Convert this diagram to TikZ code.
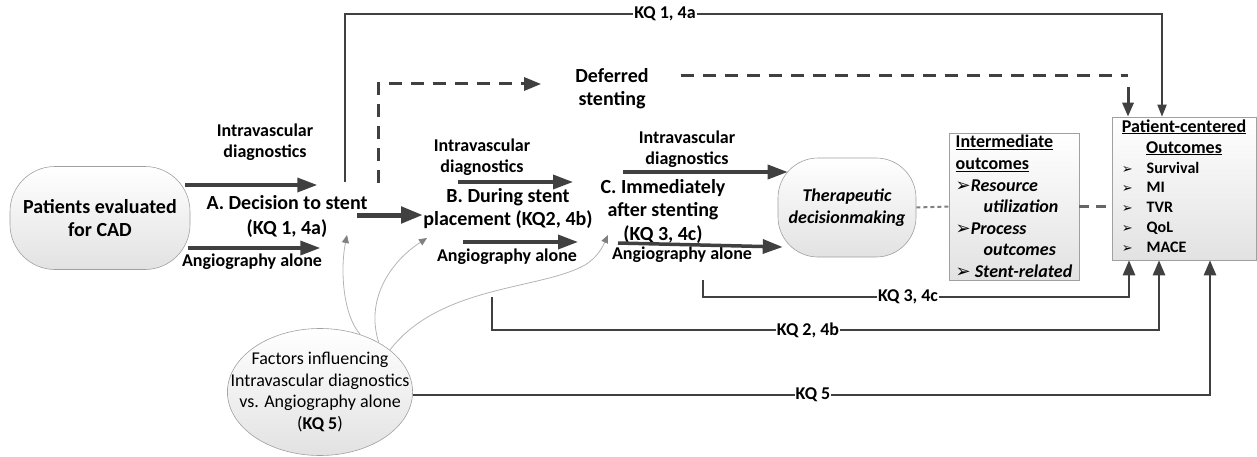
\documentclass[tikz,border=0pt]{standalone}
\usepackage{fontspec}
\setmainfont{Carlito}
\newfontfamily\dejavu{DejaVu Sans}
\usetikzlibrary{arrows.meta,shapes.geometric}

\definecolor{arrgray}{HTML}{404040}
\definecolor{edgegray}{HTML}{A0A0A0}
\definecolor{shadegray}{HTML}{E2E2E2}
\definecolor{curvegray}{HTML}{B4B4B4}

\newcommand{\bigtxt}{\fontsize{20}{23.5}\selectfont\bfseries}
\newcommand{\midtxt}{\fontsize{18}{21}\selectfont\bfseries}
\newcommand{\itm}{{\dejavu\char"27A2}}
\newcommand{\pcitem}[1]{{\fontsize{13}{16}\selectfont\itm} & {\fontsize{16}{19}\selectfont #1}\\}

\tikzset{
	roundbox/.style={rectangle, rounded corners=#1, draw=edgegray, line width=0.6pt,
		top color=white, bottom color=shadegray, align=center, inner sep=0pt},
	sqbox/.style={rectangle, draw=edgegray, line width=0.6pt,
		top color=white, bottom color=shadegray},
	lbl/.style={align=center, inner sep=0pt, font=\midtxt},
	biglbl/.style={align=center, inner sep=0pt, font=\bigtxt},
	bigarr/.style={draw=arrgray, line width=3.5pt, -{Triangle[length=20pt,width=14pt]}},
	fatarr/.style={draw=arrgray, line width=5pt, -{Triangle[length=22pt,width=16pt]}},
	kqline/.style={draw=arrgray, line width=2.5pt, -{Triangle[length=15pt,width=12pt]}},
	thinarr/.style={draw=arrgray, line width=1.8pt, -{Triangle[length=12pt,width=9pt]}},
	dashline/.style={draw=arrgray, line width=3pt, dash pattern=on 13pt off 9pt},
	kqtag/.style={fill=white, inner sep=1pt, font=\fontsize{18}{20}\selectfont\bfseries},
	infl/.style={draw=curvegray, line width=0.8pt, -{Triangle[length=8pt,width=7pt,color=gray]}},
}

\begin{document}
\begin{tikzpicture}[x=1pt,y=-1pt]
\useasboundingbox (0,0) rectangle (1257,457);

% shapes
\node[roundbox=45pt, minimum width=180pt, minimum height=103pt, font=\bigtxt] (pat) at (100,218)
	{Patients evaluated\\for CAD};
\node[roundbox=40pt, minimum width=138pt, minimum height=99pt,
	font=\fontsize{18}{22}\selectfont\bfseries\itshape] (ther) at (847,207.5)
	{Therapeutic\\decisionmaking};
\node[ellipse, draw=edgegray, line width=0.6pt, top color=white, bottom color=shadegray,
	minimum width=185pt, minimum height=127pt, inner xsep=-24pt, inner ysep=1pt, align=center,
	font=\fontsize{18}{21.5}\selectfont] (fac) at (320,392)
	{Factors influencing\\Intravascular diagnostics\\vs. Angiography alone\\(\textbf{KQ 5})};
\node[sqbox, minimum width=130pt, minimum height=147pt, inner xsep=4pt, inner ysep=0pt, align=left,
	font=\fontsize{18}{21.6}\selectfont\bfseries] (inter) at (1014,206.5)
	{\underline{Intermediate}\\\underline{outcomes}\\\itm\textit{Resource}\\\hspace*{28pt}\textit{utilization}\\
	\itm\textit{Process}\\\hspace*{28pt}\textit{outcomes}\\\itm\ \textit{Stent-related}};
\node[sqbox, minimum width=144pt, minimum height=143pt, inner sep=0pt] (pco) at (1184,188.5)
	{\fontsize{18}{21}\selectfont\bfseries\renewcommand{\arraystretch}{0.95}%
	\begin{tabular}{@{}l@{\hspace{14pt}}l@{}}
	\multicolumn{2}{@{}c@{}}{\underline{Patient-centered}}\\[1pt]
	\multicolumn{2}{@{}c@{}}{\underline{Outcomes}}\\
	\pcitem{Survival}\pcitem{MI}\pcitem{TVR}\pcitem{QoL}\pcitem{MACE}
	\end{tabular}};

% labels
\node[lbl] (ivA) at (265,142.5) {Intravascular\\diagnostics};
\node[biglbl, font=\fontsize{20}{25}\selectfont\bfseries] (dec) at (287,216.5) {A. Decision to stent\\(KQ 1, 4a)};
\node[lbl] (angA) at (252,262) {Angiography alone};
\node[lbl] (ivB) at (482,157.5) {Intravascular\\diagnostics};
\node[biglbl] (durB) at (508,208.5) {B. During stent\\placement (KQ2, 4b)};
\node[lbl] (angB) at (507,257) {Angiography alone};
\node[lbl] (ivC) at (687,149) {Intravascular\\diagnostics};
\node[biglbl] (immC) at (663,211) {C. Immediately\\after stenting\\(KQ 3, 4c)};
\node[lbl] (angC) at (682,255) {Angiography alone};
\node[biglbl] (defer) at (612,88.5) {Deferred\\stenting};

% free ends
\coordinate (kq1s) at (345,182);
\coordinate (dfs) at (378,183);
\coordinate (ab) at (357,215);
\coordinate (kq3s) at (703,280);
\coordinate (kq2s) at (492,297);

% treatment arrows
\draw[bigarr] ([xshift=-5pt,yshift=33pt]pat.east) -- ++(132,0);
\draw[bigarr] ([xshift=-2pt,yshift=-30pt]pat.east) -- ++(132,0);
\draw[fatarr] (ab) -- ++(66,0);
\draw[bigarr] (458,182) coordinate (b1) -- ++(115,0);
\draw[bigarr] (463,242) coordinate (b2) -- ++(115,0);
\draw[bigarr] (623,172) coordinate (c1) -- ([xshift=10pt]c1 -| ther.west);
\draw[bigarr] (618,243) coordinate (c2) -- ([xshift=5pt,yshift=-39.5pt]ther.west);

% deferred
\draw[dashline, -{Triangle[length=17pt,width=13pt]}] (dfs) |- ([xshift=-34pt,yshift=4.5pt]defer.west);
\draw[dashline] ([xshift=32pt,yshift=12.5pt]defer.east) -- (1128,76) coordinate (dfe);
\draw[draw=arrgray, line width=3pt, -{Triangle[length=14pt,width=11pt]}] ([yshift=-11pt]dfe) -- (dfe |- pco.north);

% outcomes
\draw[draw=gray, line width=2pt, dash pattern=on 4pt off 3pt] (ther.east) -- (inter.west);
\draw[draw=gray!80!black, line width=2.5pt, dash pattern=on 10pt off 7pt] (inter.east) -- (inter.east -| pco.west);

% key questions
\draw[thinarr] (kq1s) -- ++(0,-168) -| ([xshift=-22pt]pco.north);
\draw[kqline] (kq3s) -- ++(0,17) -| ([xshift=-55pt]pco.south);
\draw[kqline] (kq2s) -- ++(0,33) -| ([xshift=-25pt]pco.south);
\draw[kqline] ([yshift=-3pt]fac.east) -| ([xshift=26pt]pco.south);
\node[kqtag] (kq1lbl) at (665,14) {KQ 1, 4a};
\node[kqtag] (kq3lbl) at (908,297) {KQ 3, 4c};
\node[kqtag] (kq2lbl) at (808,330) {KQ 2, 4b};
\node[kqtag] (kq5lbl) at (813,395) {KQ 5};

% influence of factors
\draw[infl] (fac.55) .. controls (343,315) and (340,270) .. (347,235);
\draw[infl] (fac.40) .. controls (365,300) and (390,262) .. (427,238);
\draw[infl] (fac.31) .. controls (440,285) and (540,290) .. (585,265) .. controls (598,257) and (603,246) .. (608,235);
\end{tikzpicture}
\end{document}
